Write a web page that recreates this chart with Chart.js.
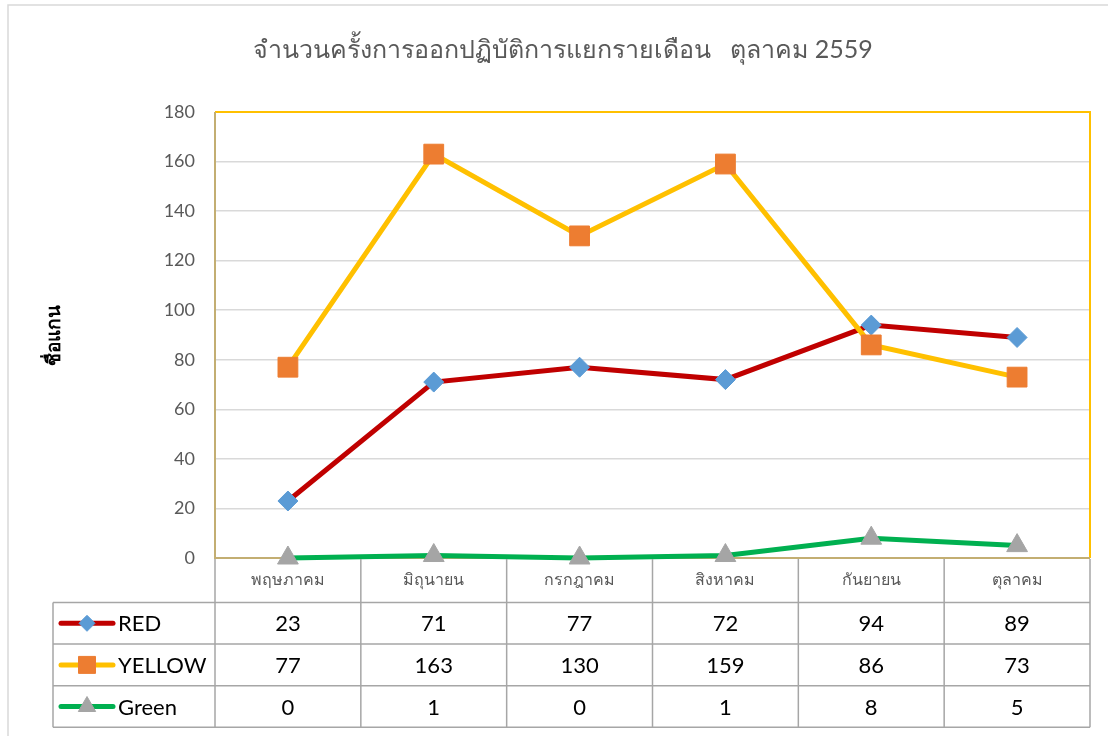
<!DOCTYPE html>
<html>
<head>
<meta charset="utf-8">
<script src="https://cdn.jsdelivr.net/npm/chart.js@4/dist/chart.umd.min.js"></script>
<style>
  body { margin: 0; background: #fff; }
  #wrap { width: 1108px; height: 736px; }
</style>
</head>
<body>
<div id="wrap"><canvas id="chart" width="1108" height="736"></canvas></div>
<script>
const chartTitle = 'จำนวนครั้งการออกปฏิบัติการแยกรายเดือน   ตุลาคม 2559';
const axisTitle = 'ชื่อแกน';
const months = ['พฤษภาคม', 'มิถุนายน', 'กรกฎาคม', 'สิงหาคม', 'กันยายน', 'ตุลาคม'];
const seriesNames = ['RED', 'YELLOW', 'Green'];
const redValues = [23, 71, 77, 72, 94, 89];
const yellowValues = [77, 163, 130, 159, 86, 73];
const greenValues = [0, 1, 0, 1, 8, 5];

const FONT = 'Lato, "Noto Sans", "Liberation Sans", sans-serif';
const GRAY_TEXT = '#595959';
const AXIS_TAN = '#c3ae72';

const seriesStyles = [
    { line: '#c00000', marker: '#5b9bd5', style: 'rectRot', r: 10, keyR: 8 },
    { line: '#ffc000', marker: '#ed7d31', style: 'rect', r: 14, keyR: 12 },
    { line: '#00b050', marker: '#a5a5a5', style: 'triangle', r: 12, keyR: 10 }
];
const seriesValues = [redValues, yellowValues, greenValues];

const datasets = seriesNames.map((name, i) => ({
    label: name,
    data: seriesValues[i],
    borderColor: seriesStyles[i].line,
    borderWidth: 5,
    pointStyle: seriesStyles[i].style,
    pointRadius: seriesStyles[i].r,
    pointBackgroundColor: seriesStyles[i].marker,
    pointBorderColor: seriesStyles[i].marker,
    pointBorderWidth: 1,
    tension: 0,
    clip: false,
    order: seriesNames.length - i
}));

// frame, title, plot border and the data table under the x axis
const tablePlugin = {
    id: 'dataTable',
    beforeDraw(chart) {
        const ctx = chart.ctx;
        ctx.save();
        ctx.strokeStyle = '#d9d9d9';
        ctx.lineWidth = 1.5;
        ctx.beginPath();
        ctx.moveTo(8, 736);
        ctx.lineTo(8, 5);
        ctx.lineTo(1108, 5);
        ctx.stroke();

        ctx.fillStyle = GRAY_TEXT;
        ctx.font = '25px ' + FONT;
        ctx.textAlign = 'center';
        ctx.textBaseline = 'middle';
        ctx.fillText(chartTitle, 563, 50);
        ctx.restore();
    },
    beforeDatasetsDraw(chart) {
        const { ctx, chartArea: a } = chart;
        ctx.save();
        ctx.lineWidth = 2;
        ctx.strokeStyle = '#ffc000';
        ctx.beginPath();
        ctx.moveTo(a.left, a.top);
        ctx.lineTo(a.right, a.top);
        ctx.lineTo(a.right, a.bottom);
        ctx.stroke();
        ctx.strokeStyle = AXIS_TAN;
        ctx.beginPath();
        ctx.moveTo(a.left, a.top);
        ctx.lineTo(a.left, a.bottom);
        ctx.lineTo(a.right, a.bottom);
        ctx.stroke();
        ctx.restore();
    },
    afterDraw(chart) {
        const { ctx, chartArea: a } = chart;
        const x = chart.scales.x;
        const n = months.length;
        const bounds = [];
        for (let i = 0; i <= n; i++) {
            if (i === 0) bounds.push(a.left);
            else if (i === n) bounds.push(a.right);
            else bounds.push((x.getPixelForValue(i - 1) + x.getPixelForValue(i)) / 2);
        }
        const catBottom = a.bottom + 44.5;
        const rowH = 41.6;
        const tableLeft = 53;
        const tableBottom = catBottom + rowH * seriesNames.length;

        ctx.save();
        ctx.strokeStyle = '#a6a6a6';
        ctx.lineWidth = 1.5;
        ctx.beginPath();
        for (const bx of bounds) {
            ctx.moveTo(bx, a.bottom + 1);
            ctx.lineTo(bx, tableBottom);
        }
        for (let r = 0; r <= seriesNames.length; r++) {
            const y = catBottom + r * rowH;
            ctx.moveTo(tableLeft, y);
            ctx.lineTo(a.right, y);
        }
        ctx.moveTo(tableLeft, catBottom);
        ctx.lineTo(tableLeft, tableBottom);
        ctx.stroke();

        ctx.textBaseline = 'middle';
        seriesNames.forEach((name, r) => {
            const cy = catBottom + r * rowH + rowH / 2;
            const st = seriesStyles[r];
            // legend key
            ctx.strokeStyle = st.line;
            ctx.lineWidth = 5;
            ctx.lineCap = 'round';
            ctx.beginPath();
            ctx.moveTo(61, cy);
            ctx.lineTo(113, cy);
            ctx.stroke();
            ctx.lineCap = 'butt';
            ctx.fillStyle = st.marker;
            ctx.strokeStyle = st.marker;
            ctx.lineWidth = 1;
            Chart.helpers.drawPoint(ctx, { pointStyle: st.style, radius: st.keyR, rotation: 0, borderWidth: 1 }, 87, cy);

            ctx.fillStyle = '#000';
            ctx.font = '22px ' + FONT;
            ctx.textAlign = 'left';
            ctx.fillText(name, 118, cy + 1);

            ctx.textAlign = 'center';
            seriesValues[r].forEach((v, i) => {
                ctx.fillText(String(v), x.getPixelForValue(i), cy + 1);
            });
        });
        ctx.restore();
    }
};

new Chart(document.getElementById('chart'), {
    type: 'line',
    data: { labels: months, datasets },
    options: {
        responsive: false,
        animation: false,
        layout: { padding: { left: 0, right: 18, top: 112, bottom: 0 } },
        plugins: {
            legend: { display: false },
            title: { display: false },
            tooltip: { enabled: false }
        },
        scales: {
            x: {
                offset: true,
                grid: { display: false, drawTicks: false },
                border: { display: false },
                ticks: {
                    color: GRAY_TEXT,
                    font: { size: 16, family: FONT },
                    padding: 12,
                    maxRotation: 0
                },
                afterFit(scale) { scale.height = 736 - 558; }
            },
            y: {
                min: 0,
                max: 180,
                ticks: {
                    stepSize: 20,
                    color: GRAY_TEXT,
                    font: { size: 18, family: FONT },
                    padding: 20
                },
                grid: {
                    color: '#d9d9d9',
                    lineWidth: 1.5,
                    drawTicks: false
                },
                border: { display: false },
                title: {
                    display: true,
                    text: axisTitle,
                    color: '#000',
                    font: { size: 19, weight: 'bold', family: FONT },
                    padding: { top: 42, bottom: 0 }
                },
                afterFit(scale) { scale.width = 215; }
            }
        }
    },
    plugins: [tablePlugin]
});
</script>
</body>
</html>
